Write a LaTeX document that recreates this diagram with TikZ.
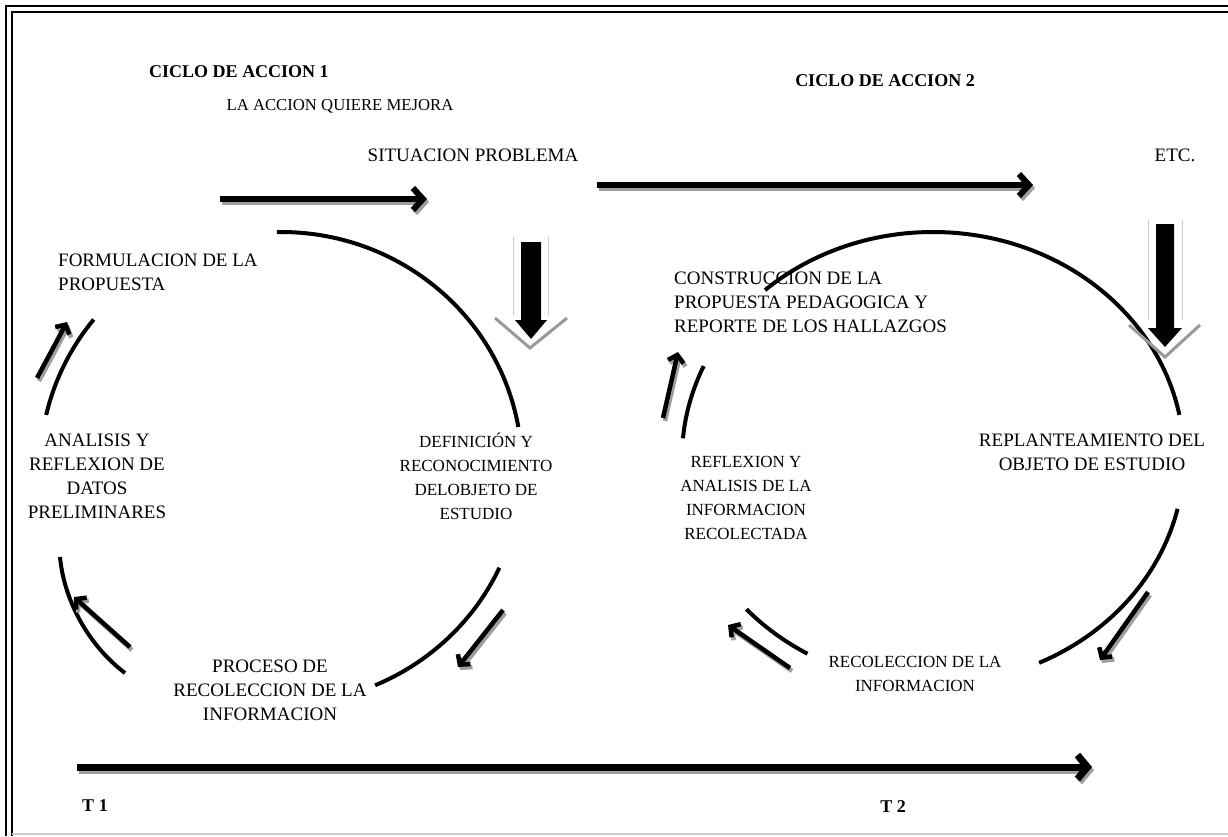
\documentclass[tikz,border=0pt]{standalone}
\usepackage{fontspec}
\setmainfont{Liberation Serif}
\usetikzlibrary{arrows.meta}
\begin{document}
\begin{tikzpicture}[x=1pt,y=-1pt,
  lbl/.style={font=\fontsize{19}{24}\selectfont, align=center, inner sep=0pt},
  lblsm/.style={font=\fontsize{17}{24}\selectfont, align=center, inner sep=0pt},
  ttl/.style={font=\bfseries\fontsize{18}{22}\selectfont, inner sep=0pt},
  cyc/.style={line width=4pt, black},
  shade/.style={draw=black!38, transform canvas={shift={(2pt,-3pt)}}},
  bigarr/.style={line width=6pt, -{Straight Barb[length=10pt,width=22pt]}},
  smallarr/.style={line width=4.5pt, -{Straight Barb[length=7pt,width=16pt]}},
  frame/.style={line width=2.4pt, black}
]
\useasboundingbox (0,0) rectangle (1228,836);

% page frame: double rule on top and left, thin rule below
\draw[frame] (6,836) -- (6,6) -- (1228,6);
\draw[frame] (12,836) -- (12,12) -- (1228,12);
\draw[black!20, line width=1.5pt] (12,834) -- (1228,834);

% titles and labels
\node[ttl] (c1) at (239,72) {CICLO DE ACCION 1};
\node[ttl] (c2) at (885,81) {CICLO DE ACCION 2};
\node[lbl, font=\fontsize{16.7}{20}\selectfont] (mej) at (340,106) {LA ACCION QUIERE MEJORA};
\node[lbl] (sit) at (473,155) {SITUACION PROBLEMA};
\node[lbl] (etc) at (1175,155) {ETC.};
\node[lbl, align=left, anchor=west] (form) at (58,272) {FORMULACION DE LA\\PROPUESTA};
\node[lbl, align=left, anchor=west] (cons) at (674,302) {CONSTRUCCION DE LA\\PROPUESTA PEDAGOGICA Y\\REPORTE DE LOS HALLAZGOS};
\node[lbl] (anal) at (97,476) {ANALISIS Y\\REFLEXION DE\\DATOS\\PRELIMINARES};
\node[lblsm] (defi) at (476,476) {DEFINICIÓN Y\\RECONOCIMIENTO\\DELOBJETO DE\\ESTUDIO};
\node[lblsm] (refl) at (746,498) {REFLEXION Y\\ANALISIS DE LA\\INFORMACION\\RECOLECTADA};
\node[lbl] (repl) at (1092,452) {REPLANTEAMIENTO DEL\\OBJETO DE ESTUDIO};
\node[lbl] (proc) at (270,690) {PROCESO DE\\RECOLECCION DE LA\\INFORMACION};
\node[lblsm] (reco) at (915,674) {RECOLECCION DE LA\\INFORMACION};
\node[ttl] (t1) at (95,806) {T 1};
\node[ttl] (t2) at (893,807) {T 2};

% first cycle, broken into four arcs
\draw[cyc] (281,468) ++(-91:241 and 236) arc[start angle=-91, end angle=-10, x radius=241, y radius=236];
\draw[cyc] (281,468) ++(25:241 and 236) arc[start angle=25, end angle=67, x radius=241, y radius=236];
\draw[cyc] (60,557) .. controls (64,600) and (88,645) .. (125,673);
\draw[cyc] (281,468) ++(193:241 and 236) arc[start angle=193, end angle=219, x radius=241, y radius=236];

% second cycle
\draw[cyc] (933,458) ++(-132:251 and 226) arc[start angle=-132, end angle=-11, x radius=251, y radius=226];
\draw[cyc] (933,458) ++(13:251 and 226) arc[start angle=13, end angle=65, x radius=251, y radius=226];
\draw[cyc] (933,458) ++(120:251 and 226) arc[start angle=120, end angle=138, x radius=251, y radius=226];
\draw[cyc] (933,458) ++(185:251 and 226) arc[start angle=185, end angle=204, x radius=251, y radius=226];

% arrow end points
\coordinate (h1a) at (220,199);  \coordinate (h1b) at (427,199);
\coordinate (h2a) at (597,185);  \coordinate (h2b) at (1033,185);
\coordinate (tla) at (77,767);   \coordinate (tlb) at (1092,767);
\coordinate (sa1) at (37,378);   \coordinate (sb1) at (67,322);
\coordinate (sa2) at (130,647);  \coordinate (sb2) at (74,597);
\coordinate (sa3) at (503,610);  \coordinate (sb3) at (458,667);
\coordinate (sa4) at (663,418);  \coordinate (sb4) at (678,352);
\coordinate (sa5) at (1148,592); \coordinate (sb5) at (1100,660);
\coordinate (sa6) at (790,668);  \coordinate (sb6) at (728,625);

% shadows first, then the arrows
\foreach \a/\b in {h1a/h1b, h2a/h2b} \draw[bigarr, shade] (\a) -- (\b);
\draw[line width=7pt, -{Straight Barb[length=10pt,width=24pt]}, shade] (tla) -- (tlb);
\foreach \a/\b in {sa1/sb1, sa2/sb2, sa3/sb3, sa4/sb4, sa5/sb5, sa6/sb6} \draw[smallarr, shade] (\a) -- (\b);

\foreach \a/\b in {h1a/h1b, h2a/h2b} \draw[bigarr] (\a) -- (\b);
\draw[line width=7pt, -{Straight Barb[length=10pt,width=24pt]}] (tla) -- (tlb);
\foreach \a/\b in {sa1/sb1, sa2/sb2, sa3/sb3, sa4/sb4, sa5/sb5, sa6/sb6} \draw[smallarr] (\a) -- (\b);

% block arrows pointing down, with a grey chevron underneath
\draw[black!20, line width=1pt] (513,237) -- (513,315) (548,237) -- (548,315);
\fill (521,242) -- (541,242) -- (541,320) -- (547,320) -- (531,339) -- (515,320) -- (521,320) -- cycle;
\draw[black!40, line width=3pt] (495,318) -- (530,348) -- (567,318);

\draw[black!20, line width=1pt] (1148,220) -- (1148,320) (1182,220) -- (1182,320);
\fill (1156,224) -- (1174,224) -- (1174,328) -- (1182,328) -- (1165,347) -- (1148,328) -- (1156,328) -- cycle;
\draw[black!40, line width=3pt] (1129,325) -- (1165,357) -- (1200,325);
\end{tikzpicture}
\end{document}
